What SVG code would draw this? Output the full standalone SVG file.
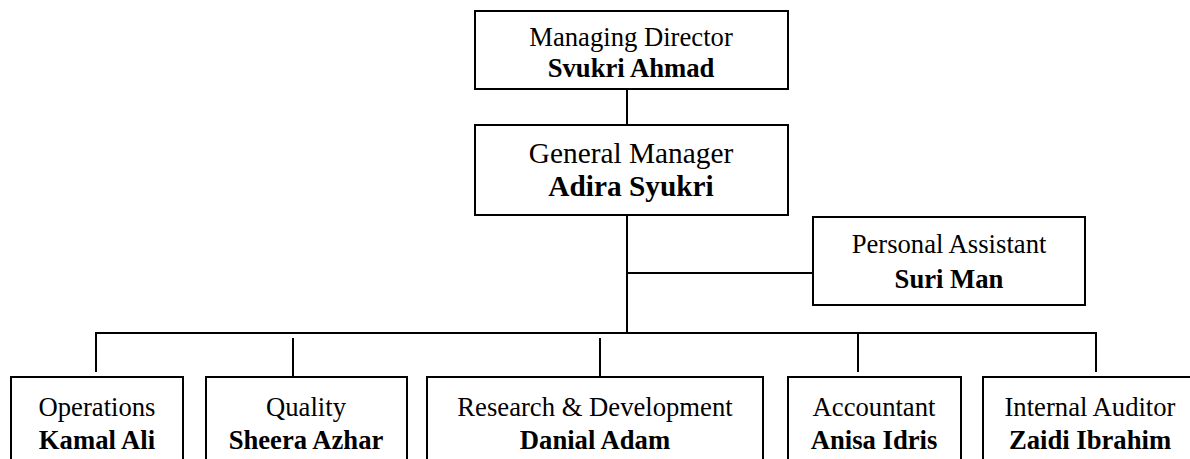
<svg xmlns="http://www.w3.org/2000/svg" width="1190" height="459" viewBox="0 0 1190 459">
<style>
.box{fill:#fff;stroke:#000;stroke-width:2}
.ln{stroke:#000;stroke-width:2;fill:none}
text{font-family:"Liberation Serif","Times New Roman",serif;fill:#000;text-anchor:middle;font-size:26.67px}
.b{font-weight:bold}
.gm{font-size:29.33px}
</style>
<rect width="1190" height="459" fill="#fff"/>
<g id="connectors">
<line class="ln" x1="627" y1="89" x2="627" y2="125"/>
<line class="ln" x1="627" y1="215" x2="627" y2="333"/>
<line class="ln" x1="627" y1="273" x2="813" y2="273"/>
<line class="ln" x1="95" y1="333" x2="1097" y2="333"/>
<line class="ln" x1="96" y1="333" x2="96" y2="372"/>
<line class="ln" x1="293" y1="338" x2="293" y2="377"/>
<line class="ln" x1="600" y1="338" x2="600" y2="377"/>
<line class="ln" x1="858" y1="333" x2="858" y2="372"/>
<line class="ln" x1="1096" y1="333" x2="1096" y2="372"/>
</g>
<g id="md">
<rect class="box" x="475" y="11" width="313" height="78"/>
<text x="631" y="46">Managing Director</text>
<text class="b" x="631" y="77">Svukri Ahmad</text>
</g>
<g id="gm">
<rect class="box" x="475" y="125" width="313" height="90"/>
<text class="gm" x="631" y="163">General Manager</text>
<text class="gm b" x="631" y="196">Adira Syukri</text>
</g>
<g id="pa">
<rect class="box" x="813" y="217" width="272" height="88"/>
<text x="949" y="253">Personal Assistant</text>
<text class="b" x="949" y="288">Suri Man</text>
</g>
<g id="ops">
<rect class="box" x="11" y="377" width="172" height="100"/>
<text x="97" y="416">Operations</text>
<text class="b" x="97" y="449">Kamal Ali</text>
</g>
<g id="quality">
<rect class="box" x="206" y="377" width="201" height="100"/>
<text x="306" y="416">Quality</text>
<text class="b" x="306" y="449">Sheera Azhar</text>
</g>
<g id="rnd">
<rect class="box" x="427" y="377" width="336" height="100"/>
<text x="595" y="416">Research &amp; Development</text>
<text class="b" x="595" y="449">Danial Adam</text>
</g>
<g id="acc">
<rect class="box" x="788" y="377" width="173" height="100"/>
<text x="874" y="416">Accountant</text>
<text class="b" x="874" y="449">Anisa Idris</text>
</g>
<g id="ia">
<rect class="box" x="983" y="377" width="214" height="100"/>
<text x="1090" y="416">Internal Auditor</text>
<text class="b" x="1090" y="449">Zaidi Ibrahim</text>
</g>
</svg>
